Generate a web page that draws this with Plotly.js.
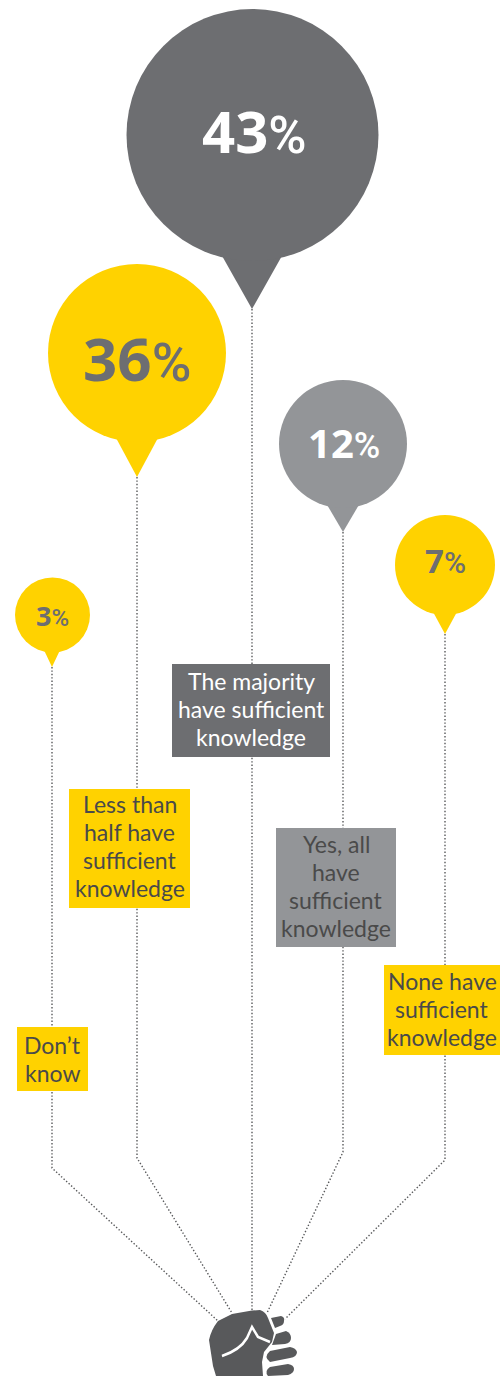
<!DOCTYPE html>
<html>
<head>
<meta charset="utf-8">
<script src="https://cdn.plot.ly/plotly-3.0.1.min.js"></script>
<style>html,body{margin:0;padding:0;background:#fff;overflow:hidden}#chart{width:502px;height:1376px}svg text{font-variant-ligatures:none}</style>
</head>
<body>
<div id="chart"></div>
<script>
// Survey answers and their shares, in left-to-right order
const categories = [["Don’t", "know"], ["Less than", "half have", "sufficient", "knowledge"], ["The majority", "have sufficient", "knowledge"], ["Yes, all", "have", "sufficient", "knowledge"], ["None have", "sufficient", "knowledge"]];
const shares = [3, 36, 43, 12, 7];

// Balloon placement
const centerX = [52.5, 137, 252.5, 343, 445];
const centerY = [615, 353, 135, 444, 565];
const radius = [37.5, 89, 126, 64, 50];
const tipX = [52, 137, 252, 343, 445];
const tipY = [667, 477, 309, 532, 634];
const tailHalf = [9, 22, 31, 17, 13];
const tailTop = [648, 436, 254, 503, 610];
const fills = ["#FFD200", "#FFD200", "#6D6E71", "#939598", "#FFD200"];
const pctColors = ["#6D6E71", "#6D6E71", "#FFFFFF", "#FFFFFF", "#6D6E71"];
const pctSizes = [27, 60, 58, 40, 33];
const labelDrop = [0, 5, -5, -2, -5];
const labelNudge = [0, 0, 2, 1, 0];

// Strings running from each balloon to the fist
const bendY = [1168, 1158, 1310, 1152, 1160];
const fistX = [218, 232, 253, 267, 285];
const fistY = [1321, 1313, 1310, 1313, 1319];

// Answer boxes
const boxX0 = [17, 69, 172, 276, 384];
const boxX1 = [88, 190, 330, 396, 500];
const boxY0 = [1027, 789, 664, 828, 965];
const boxY1 = [1091, 908, 757, 947, 1055];
const boxText = ["#4A4A4A", "#4A4A4A", "#FFFFFF", "#4A4A4A", "#4A4A4A"];
const boxShift = [0, -3, -2, -2, -1];
const linePitch = 28;

const FONT = "Lato, sans-serif";
const NUM_FONT = "Noto Sans, sans-serif";

const strings = categories.map((c, i) => ({
  type: "scatter", mode: "lines", hoverinfo: "skip", showlegend: false,
  x: [tipX[i], tipX[i], fistX[i]],
  y: [tipY[i], bendY[i], fistY[i]],
  line: {color: "#58595B", width: 1.4, dash: "1.4px 2px"}
}));

const tails = categories.map((c, i) => ({
  type: "scatter", mode: "lines", fill: "toself", hoverinfo: "skip", showlegend: false,
  x: [tipX[i] - tailHalf[i], tipX[i], tipX[i] + tailHalf[i], tipX[i] - tailHalf[i]],
  y: [tailTop[i], tipY[i], tailTop[i], tailTop[i]],
  fillcolor: fills[i], line: {width: 0}
}));

const balloons = {
  type: "scatter", mode: "markers", hoverinfo: "skip", showlegend: false,
  x: centerX, y: centerY,
  marker: {size: radius.map(r => r * 2), color: fills, line: {width: 0}, opacity: 1}
};

const boxes = categories.map((c, i) => ({
  type: "rect", layer: "above", xref: "x", yref: "y",
  x0: boxX0[i], x1: boxX1[i], y0: boxY0[i], y1: boxY1[i],
  fillcolor: fills[i], line: {width: 0}
}));

// One annotation per line so the leading stays fixed
const boxLabels = categories.flatMap((lines, i) => lines.map((t, j) => ({
  xref: "x", yref: "y", showarrow: false,
  x: (boxX0[i] + boxX1[i]) / 2,
  y: (boxY0[i] + boxY1[i]) / 2 + (j - (lines.length - 1) / 2) * linePitch + boxShift[i],
  text: t, xanchor: "center", yanchor: "middle",
  font: {family: FONT, size: 23, color: boxText[i]}
})));

// Bold digits with a lighter, narrower percent sign
const pctLabels = shares.map((v, i) => ({
  xref: "x", yref: "y", showarrow: false,
  x: centerX[i] + labelNudge[i], y: centerY[i] + labelDrop[i],
  text: "<b>" + v + "</b><span style=\"font-family:Roboto;font-weight:500;font-size:" + Math.round(pctSizes[i] * 0.9) + "px\">%</span>",
  xanchor: "center", yanchor: "middle",
  font: {family: NUM_FONT, size: pctSizes[i], color: pctColors[i]}
}));

// Clenched fist holding the strings
const fistShapes = [
  {path: "M218 1321 L232 1314 L252 1310.5 L260 1310 Q266 1312 268 1318 L274 1333 L272 1342 L264 1352 L262 1362 L263 1376 L216 1376 L213 1366 L209 1340 Q211 1330 218 1321 Z", fill: "#58595B"},
  {path: "M271 1318 L281 1316 Q285 1317 284 1321 Q284 1325 280 1326 L275 1328 Z", fill: "#58595B"},
  {path: "M276 1334 L286 1331 Q291 1333 291 1338 Q291 1343 285 1344 L272 1345 Z", fill: "#58595B"},
  {path: "M270 1351 L290 1347 Q296 1348 297 1352 Q297 1357 290 1358 L270 1362 Q263 1357 270 1351 Z", fill: "#58595B"},
  {path: "M270 1367 L288 1364 Q294 1365 294 1369 Q294 1373 288 1375 L268 1376 Q264 1371 270 1367 Z", fill: "#58595B"},
  {path: "M222 1356 Q240 1350 247 1338 L252 1327 L258 1337 L270 1342", stroke: "#FFFFFF"}
].map(s => ({
  type: "path", layer: "above", xref: "x", yref: "y", path: s.path,
  fillcolor: s.fill || "rgba(0,0,0,0)",
  line: s.stroke ? {color: s.stroke, width: 2.5} : {width: 0}
}));

const layout = {
  width: 502, height: 1376,
  margin: {l: 0, r: 0, t: 0, b: 0},
  paper_bgcolor: "#FFFFFF", plot_bgcolor: "#FFFFFF",
  showlegend: false,
  xaxis: {range: [0, 502], visible: false, fixedrange: true},
  yaxis: {range: [1376, 0], visible: false, fixedrange: true},
  shapes: boxes.concat(fistShapes),
  annotations: boxLabels.concat(pctLabels)
};

Plotly.newPlot("chart", strings.concat(tails, [balloons]), layout, {displayModeBar: false, staticPlot: true});
</script>
</body>
</html>
